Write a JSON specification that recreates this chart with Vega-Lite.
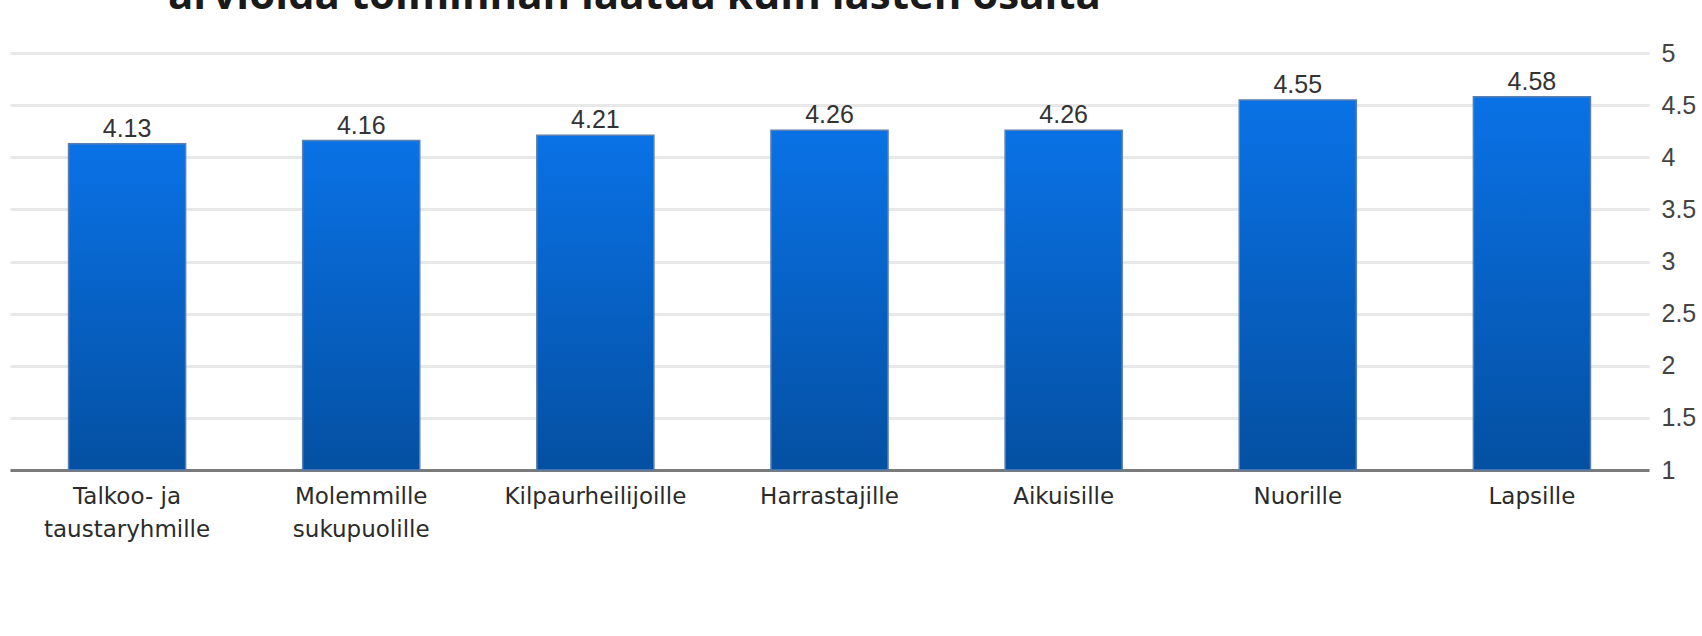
{
  "$schema": "https://vega.github.io/schema/vega-lite/v6.json",
  "width": 1639,
  "height": 417,
  "autosize": {"type": "none"},
  "padding": {"left": 10, "top": 53, "right": 53, "bottom": 166},
  "background": "white",
  "view": {"stroke": null},
  "title": {
    "text": "arvioida toiminnan laatua kuin lasten osalta",
    "anchor": "start",
    "frame": "group",
    "dx": 158,
    "offset": -10,
    "baseline": "alphabetic",
    "font": "Open Sans",
    "fontSize": 42,
    "fontWeight": "bold",
    "color": "#1a1a1a"
  },
  "data": {
    "values": [
      {"group": "Talkoo- ja|taustaryhmille", "value": 4.13},
      {"group": "Molemmille|sukupuolille", "value": 4.16},
      {"group": "Kilpaurheilijoille", "value": 4.21},
      {"group": "Harrastajille", "value": 4.26},
      {"group": "Aikuisille", "value": 4.26},
      {"group": "Nuorille", "value": 4.55},
      {"group": "Lapsille", "value": 4.58}
    ]
  },
  "encoding": {
    "x": {
      "field": "group",
      "type": "nominal",
      "sort": null,
      "scale": {"paddingInner": 0.5, "paddingOuter": 0.25},
      "axis": {
        "title": null,
        "labelAngle": 0,
        "domainColor": "#7a7a7a",
        "domainWidth": 3,
        "ticks": false,
        "grid": false,
        "labelFont": "DejaVu Sans",
        "labelFontSize": 23,
        "labelColor": "#2b2b2b",
        "labelPadding": 15,
        "labelLimit": 400,
        "labelExpr": "split(datum.label, '|')",
        "labelLineHeight": 33
      }
    }
  },
  "layer": [
    {
      "mark": {
        "type": "bar",
        "stroke": "#5a7fb0",
        "strokeWidth": 1.5,
        "fill": {
          "gradient": "linear",
          "x1": 0, "y1": 0, "x2": 0, "y2": 1,
          "stops": [
            {"offset": 0, "color": "#0a72e6"},
            {"offset": 1, "color": "#0450a2"}
          ]
        }
      },
      "encoding": {
        "y": {
          "field": "value",
          "type": "quantitative",
          "scale": {"domain": [1, 5], "zero": false, "nice": false},
          "axis": {
            "orient": "right",
            "title": null,
            "grid": true,
            "gridColor": "#e8e8e8",
            "gridWidth": 3,
            "domain": false,
            "ticks": false,
            "values": [1, 1.5, 2, 2.5, 3, 3.5, 4, 4.5, 5],
            "format": ".1~f",
            "labelFont": "Liberation Sans",
            "labelFontSize": 25,
            "labelColor": "#444444",
            "labelPadding": 12
          }
        },
        "y2": {"datum": 1}
      }
    },
    {
      "mark": {
        "type": "text",
        "baseline": "alphabetic",
        "dy": -7,
        "font": "Liberation Sans",
        "fontSize": 25,
        "color": "#333333"
      },
      "encoding": {
        "y": {"field": "value", "type": "quantitative"},
        "text": {"field": "value", "type": "quantitative", "format": ".2f"}
      }
    }
  ]
}
